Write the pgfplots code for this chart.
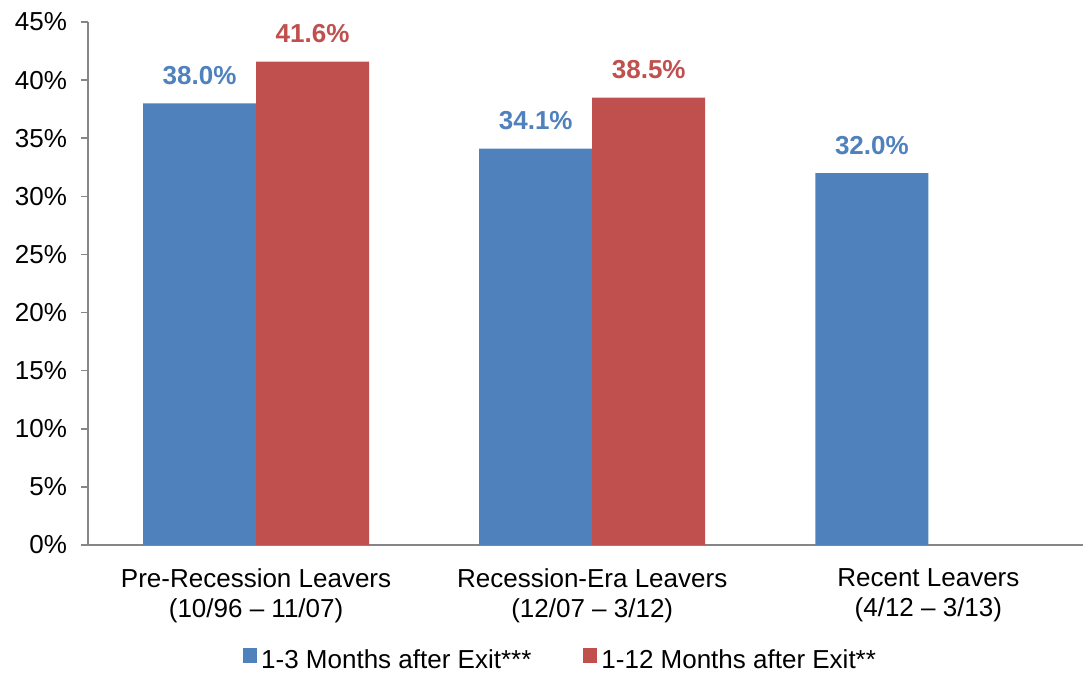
\documentclass[border=0pt]{standalone}
\usepackage{pgfplots}
\pgfplotsset{compat=1.18}
\usepackage{fontspec}
\setmainfont{Liberation Sans}
\definecolor{barblue}{HTML}{4F81BD}
\definecolor{barred}{HTML}{C0504D}
\definecolor{axgray}{HTML}{868686}
\begin{document}
\begin{tikzpicture}
\useasboundingbox (0,0) rectangle (541.5pt,336.5pt);
\begin{axis}[
  at={(44pt,64pt)}, anchor=south west,
  scale only axis, width=497.5pt, height=261.5pt,
  ybar=0pt, bar width=56.5pt,
  xmin=-0.5, xmax=2.46, ymin=0, ymax=45,
  axis x line*=bottom, axis y line*=left,
  axis line style={axgray, line width=0.8pt},
  xtick={0,1,2},
  xticklabels={{Pre-Recession Leavers\\(10/96 -- 11/07)},{Recession-Era Leavers\\(12/07 -- 3/12)},{Recent Leavers\\(4/12 -- 3/13)}},
  x tick style={draw=none},
  extra x ticks={-0.5,0.5,1.5},
  extra x tick labels={},
  extra x tick style={major tick length=3.5pt, tick align=outside, tick style={draw=axgray, line width=0.8pt}},
  xticklabel style={align=center, font=\fontsize{13}{15}\selectfont, text=black, yshift=-5pt},
  ytick={0,5,...,45},
  yticklabels={0\%,5\%,10\%,15\%,20\%,25\%,30\%,35\%,40\%,45\%},
  yticklabel style={font=\fontsize{13}{15}\selectfont, xshift=-3.5pt},
  y tick style={draw=axgray, line width=0.8pt},
  tick align=outside, major tick length=3.5pt,
  /pgf/number format/assume math mode=true,
  nodes near coords={\pgfmathprintnumber[fixed,fixed zerofill,precision=1]{\pgfplotspointmeta}\%},
  every node near coord/.append style={font=\fontsize{13}{15}\selectfont\bfseries, inner sep=0pt, anchor=south, yshift=9pt},
  legend style={at={(0.476,-0.221)}, anchor=center, draw=none, fill=none, legend columns=2,
    inner sep=0pt, font=\fontsize{13}{14}\selectfont,
    /tikz/every even column/.append style={column sep=24pt}},
  legend image code/.code={\fill[#1] (0pt,-1pt) rectangle (7pt,6.5pt);},
  clip=false,
]
\addplot[fill=barblue, draw=none, every node near coord/.append style={text=barblue}] coordinates {(0,38.0) (1,34.1) (2,32.0)};
\addplot[fill=barred, draw=none, every node near coord/.append style={text=barred}] coordinates {(0,41.6) (1,38.5)};
\legend{1-3 Months after Exit***, 1-12 Months after Exit**}
\end{axis}
\end{tikzpicture}
\end{document}
